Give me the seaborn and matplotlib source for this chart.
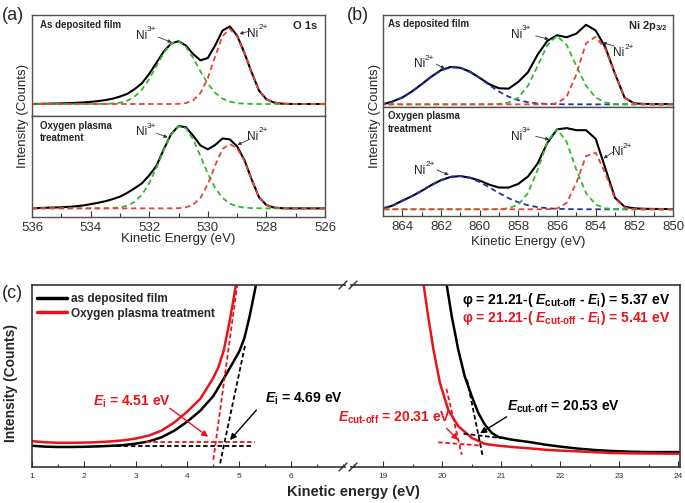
import matplotlib
matplotlib.use("Agg")
import matplotlib.pyplot as plt
import seaborn as sns
from matplotlib.lines import Line2D
from matplotlib.ticker import MultipleLocator

# ---------------- (a) O 1s ----------------
a_energy = [536.0, 535.75, 535.5, 535.25, 535.0, 534.75, 534.5, 534.25, 534.0, 533.75,
            533.5, 533.25, 533.0, 532.75, 532.5, 532.25, 532.0, 531.75, 531.5, 531.25,
            531.0, 530.75, 530.5, 530.25, 530.0, 529.75, 529.5, 529.25, 529.0, 528.75,
            528.5, 528.25, 528.0, 527.75, 527.5, 527.25, 527.0, 526.75, 526.5, 526.25, 526.0]

a_dep_total = [0.0, 0.002, 0.004, 0.006, 0.008, 0.011, 0.015, 0.02, 0.027, 0.037,
               0.05, 0.068, 0.095, 0.13, 0.19, 0.265, 0.385, 0.53, 0.675, 0.775,
               0.805, 0.75, 0.64, 0.56, 0.59, 0.75, 0.94, 0.995, 0.877, 0.654,
               0.401, 0.17, 0.06, 0.02, 0.005, 0.001, 0, 0, 0, 0, 0]
a_dep_ni3 = [0, 0, 0, 0, 0, 0, 0, 0, 0, 0,
             0.002, 0.006, 0.017, 0.042, 0.094, 0.185, 0.32, 0.488, 0.655, 0.773,
             0.803, 0.734, 0.591, 0.419, 0.261, 0.144, 0.069, 0.03, 0.011, 0.004,
             0.001, 0, 0, 0, 0, 0, 0, 0, 0, 0, 0]
a_dep_ni2 = [0, 0, 0, 0, 0, 0, 0, 0, 0, 0,
             0, 0, 0, 0, 0, 0, 0, 0, 0, 0,
             0.002, 0.012, 0.047, 0.141, 0.332, 0.609, 0.868, 0.965, 0.866, 0.65,
             0.40, 0.17, 0.06, 0.02, 0.005, 0.001, 0, 0, 0, 0, 0]

a_pl_total = [0.0, 0.004, 0.007, 0.01, 0.013, 0.018, 0.025, 0.035, 0.05, 0.066,
              0.085, 0.11, 0.14, 0.185, 0.24, 0.30, 0.395, 0.51, 0.71, 0.89,
              0.986, 0.973, 0.87, 0.753, 0.707, 0.759, 0.837, 0.827, 0.743, 0.578,
              0.343, 0.131, 0.04, 0.01, 0.002, 0, 0, 0, 0, 0, 0]
a_pl_ni3 = [0, 0, 0, 0, 0, 0, 0, 0, 0, 0,
            0.001, 0.004, 0.012, 0.032, 0.078, 0.163, 0.301, 0.49, 0.702, 0.886,
            0.984, 0.961, 0.827, 0.626, 0.418, 0.245, 0.126, 0.057, 0.023, 0.008,
            0.003, 0.001, 0, 0, 0, 0, 0, 0, 0, 0, 0]
a_pl_ni2 = [0, 0, 0, 0, 0, 0, 0, 0, 0, 0,
            0, 0, 0, 0, 0, 0, 0, 0, 0, 0,
            0.002, 0.012, 0.043, 0.127, 0.289, 0.514, 0.711, 0.77, 0.72, 0.57,
            0.34, 0.13, 0.04, 0.01, 0.002, 0, 0, 0, 0, 0, 0]

# ---------------- (b) Ni 2p3/2 ----------------
b_energy = [865.0, 864.5, 864.0, 863.5, 863.0, 862.5, 862.0, 861.5, 861.0, 860.5,
            860.0, 859.5, 859.0, 858.5, 858.0, 857.5, 857.0, 856.5, 856.0, 855.5,
            855.0, 854.5, 854.0, 853.5, 853.0, 852.5, 852.0, 851.5, 851.0, 850.5, 850.0]

b_dep_total = [0.0, 0.035, 0.085, 0.16, 0.25, 0.345, 0.425, 0.465, 0.455, 0.405,
               0.33, 0.25, 0.2, 0.195, 0.28, 0.40, 0.62, 0.79, 0.86, 0.835,
               0.88, 0.99, 0.92, 0.71, 0.38, 0.08, 0.012, 0.005, 0.003, 0.003, 0.003]
b_dep_sat = [0.005, 0.035, 0.085, 0.16, 0.248, 0.343, 0.423, 0.464, 0.455, 0.405,
             0.326, 0.239, 0.158, 0.095, 0.052, 0.026, 0.011, 0.005, 0.002, 0.001,
             0, 0, 0, 0, 0, 0, 0, 0, 0, 0, 0]
b_dep_ni3 = [0, 0, 0, 0, 0, 0, 0, 0, 0, 0,
             0, 0.001, 0.005, 0.023, 0.084, 0.232, 0.479, 0.738, 0.853, 0.738,
             0.479, 0.232, 0.084, 0.023, 0.005, 0.001, 0, 0, 0, 0, 0]
b_dep_ni2 = [0, 0, 0, 0, 0, 0, 0, 0, 0, 0,
             0, 0, 0, 0, 0, 0, 0, 0.001, 0.013, 0.095,
             0.372, 0.759, 0.84, 0.69, 0.38, 0.08, 0.008, 0.001, 0, 0, 0]

b_pl_total = [0.01, 0.045, 0.105, 0.16, 0.225, 0.295, 0.355, 0.395, 0.405, 0.385,
              0.35, 0.30, 0.265, 0.265, 0.31, 0.40, 0.56, 0.81, 0.975, 0.99,
              0.965, 0.965, 0.86, 0.50, 0.14, 0.03, 0.012, 0.006, 0.004, 0.003, 0.003]
b_pl_sat = [0.01, 0.045, 0.103, 0.159, 0.225, 0.295, 0.356, 0.396, 0.406, 0.383,
            0.333, 0.267, 0.198, 0.135, 0.085, 0.049, 0.026, 0.013, 0.006, 0.002,
            0.001, 0, 0, 0, 0, 0, 0, 0, 0, 0, 0]
b_pl_ni3 = [0, 0, 0, 0, 0, 0, 0, 0, 0, 0,
            0, 0, 0.002, 0.012, 0.057, 0.199, 0.482, 0.821, 0.98, 0.821,
            0.482, 0.199, 0.057, 0.012, 0.002, 0, 0, 0, 0, 0, 0]
b_pl_ni2 = [0, 0, 0, 0, 0, 0, 0, 0, 0, 0,
            0, 0, 0, 0, 0, 0, 0, 0.001, 0.009, 0.078,
            0.322, 0.649, 0.69, 0.44, 0.13, 0.02, 0.002, 0, 0, 0, 0]

# ---------------- (c) UPS ----------------
c_low_e_dep = [1.0, 1.25, 1.5, 1.75, 2.0, 2.25, 2.5, 2.75, 3.0, 3.25, 3.5, 3.75,
               4.0, 4.25, 4.5, 4.75, 5.0, 5.1, 5.2, 5.3, 5.35]
c_low_i_dep = [11.7, 11.2, 11.0, 11.0, 11.1, 11.3, 11.6, 12.0, 12.8, 14.0, 16.3, 20.0,
               25.0, 31.0, 39.0, 51.0, 63.5, 71.0, 83.0, 97.0, 105.0]
c_low_e_pl = [1.0, 1.25, 1.5, 1.75, 2.0, 2.25, 2.5, 2.75, 3.0, 3.25, 3.5, 3.75,
              4.0, 4.25, 4.5, 4.6, 4.7, 4.8, 4.9, 4.95]
c_low_i_pl = [14.2, 13.6, 13.3, 13.3, 13.4, 13.6, 14.0, 14.6, 15.6, 17.2, 20.0, 24.5,
              30.5, 37.5, 49.0, 55.0, 64.0, 78.0, 94.0, 103.0]

c_high_e_dep = [19.95, 20.07, 20.16, 20.27, 20.38, 20.5, 20.61, 20.72, 20.84, 20.95,
                21.18, 21.5, 21.74, 22.0, 22.3, 22.6, 22.87, 23.2, 23.5, 24.0]
c_high_i_dep = [125.0, 101.0, 82.8, 64.5, 49.8, 38.8, 29.7, 23.3, 18.7, 16.5,
                15.0, 13.6, 12.3, 11.2, 10.1, 9.3, 8.8, 8.4, 8.2, 8.2]
c_high_e_pl = [19.6, 19.68, 19.76, 19.85, 19.96, 20.1, 20.27, 20.5, 20.72, 20.95,
               21.18, 21.5, 21.74, 22.0, 22.3, 22.6, 22.87, 23.2, 23.5, 24.0]
c_high_i_pl = [119.0, 101.0, 82.8, 64.5, 46.2, 31.5, 22.4, 16.0, 12.7, 11.7,
               11.0, 10.2, 9.5, 9.0, 8.6, 8.1, 7.7, 7.5, 7.4, 7.3]

# extrapolation lines (end points)
ei_base_dep = ([2.35, 5.25], [11.8, 11.8])
ei_base_pl = ([3.2, 5.3], [14.0, 14.0])
ei_edge_dep = ([4.63, 5.12], [2.0, 68.0])
ei_edge_pl = ([4.50, 4.96], [4.0, 100.0])
co_base_dep = ([20.36, 21.0], [18.3, 15.9])
co_base_pl = ([19.93, 20.67], [13.6, 11.7])
co_edge_dep = ([20.42, 20.68], [48.0, 6.6])
co_edge_pl = ([20.07, 20.33], [43.0, 6.7])

# ---------------- style ----------------
sns.set_style("ticks")
plt.rcParams["font.family"] = ["Liberation Sans", "DejaVu Sans"]
plt.rcParams["mathtext.fontset"] = "custom"
plt.rcParams["mathtext.rm"] = "Liberation Sans:bold"
plt.rcParams["mathtext.it"] = "Liberation Sans:italic:bold"
plt.rcParams["mathtext.bf"] = "Liberation Sans:bold"

GREEN = "#2dbb2d"
RED = "#e8403a"
BLUE = "#2233aa"
CRED = "#e8141b"
FRAME = "#505050"

fig = plt.figure(figsize=(6.85, 5.03), dpi=100)


def box(left, top, right, bottom):
    return [left / 685, 1 - bottom / 503, (right - left) / 685, (bottom - top) / 503]


def xps(ax, x, total, comps, xlim, ylim):
    sns.lineplot(x=x, y=total, ax=ax, color="black", lw=1.5)
    for y, c in comps:
        sns.lineplot(x=x, y=y, ax=ax, color=c, lw=1.3, ls=(0, (3, 2)))
    ax.set_xlim(*xlim)
    ax.set_ylim(*ylim)
    ax.set_yticks([])
    ax.set_xlabel("")
    ax.set_ylabel("")
    for s in ax.spines.values():
        s.set_color(FRAME)
        s.set_linewidth(1.0)
        s.set_visible(True)


def label_arrow(ax, charge, txy, tail, tip):
    # "Ni" plus a small superscript charge, and a thin arrow to the peak
    ax.annotate("Ni", xy=txy, xytext=(-5, -3), textcoords="offset points",
                ha="center", va="center", fontsize=8.5, color="#222222")
    ax.annotate(charge, xy=txy, xytext=(-1.2, 1.5), textcoords="offset points",
                ha="left", va="center", fontsize=6, color="#222222")
    ax.annotate("", xy=tip, xytext=tail,
                arrowprops=dict(arrowstyle="-|>", color="#333333", lw=0.6,
                                mutation_scale=5, shrinkA=0, shrinkB=0))


# ---- (a)
ax_a1 = fig.add_axes(box(32, 15, 325, 115.7))
ax_a2 = fig.add_axes(box(32, 115.7, 325, 216.7))
xps(ax_a1, a_energy, a_dep_total, [(a_dep_ni3, GREEN), (a_dep_ni2, RED)], (536, 526), (-0.15, 1.141))
xps(ax_a2, a_energy, a_pl_total, [(a_pl_ni3, GREEN), (a_pl_ni2, RED)], (536, 526), (-0.10, 1.11))
label_arrow(ax_a1, "3+", (532.03, 0.93), (531.69, 0.857), (531.23, 0.79))
label_arrow(ax_a1, "2+", (528.22, 0.95), (528.56, 0.935), (528.92, 0.9))
label_arrow(ax_a2, "3+", (532.03, 0.96), (531.75, 0.9), (531.37, 0.85))
label_arrow(ax_a2, "2+", (528.22, 0.91), (528.56, 0.83), (528.99, 0.76))
ax_a1.text(0.027, 0.9, "As deposited film", transform=ax_a1.transAxes, fontsize=7,
           fontweight="bold", va="center", ha="left")
ax_a1.text(0.975, 0.89, "O 1s", transform=ax_a1.transAxes, fontsize=8,
           fontweight="bold", va="center", ha="right")
ax_a2.text(0.027, 0.95, "Oxygen plasma\ntreatment", transform=ax_a2.transAxes, fontsize=7,
           fontweight="bold", va="top", ha="left", linespacing=1.3)

# ---- (b)
ax_b1 = fig.add_axes(box(383, 15, 673, 107.3))
ax_b2 = fig.add_axes(box(383, 107.3, 673, 216))
xps(ax_b1, b_energy, b_dep_total, [(b_dep_sat, BLUE), (b_dep_ni3, GREEN), (b_dep_ni2, RED)],
    (865, 850), (-0.037, 1.112))
xps(ax_b2, b_energy, b_pl_total, [(b_pl_sat, BLUE), (b_pl_ni3, GREEN), (b_pl_ni2, RED)],
    (865, 850), (-0.082, 1.244))
label_arrow(ax_b1, "2+", (862.75, 0.55), (862.25, 0.5), (861.8, 0.445))
label_arrow(ax_b1, "3+", (857.72, 0.92), (857.1, 0.853), (856.42, 0.81))
label_arrow(ax_b1, "2+", (852.44, 0.685), (853.05, 0.727), (853.65, 0.77))
label_arrow(ax_b2, "2+", (862.73, 0.52), (862.21, 0.48), (861.6, 0.418))
label_arrow(ax_b2, "3+", (857.72, 0.93), (857.1, 0.89), (856.4, 0.85))
label_arrow(ax_b2, "2+", (852.53, 0.746), (853.05, 0.705), (853.6, 0.62))
ax_b1.text(0.017, 0.9, "As deposited film", transform=ax_b1.transAxes, fontsize=7,
           fontweight="bold", va="center", ha="left")
ax_b1.text(0.983, 0.88, r"Ni 2p$_{\mathrm{3/2}}$", transform=ax_b1.transAxes, fontsize=8,
           fontweight="bold", va="center", ha="right")
ax_b2.text(0.017, 0.962, "Oxygen plasma\ntreatment", transform=ax_b2.transAxes, fontsize=7,
           fontweight="bold", va="top", ha="left", linespacing=1.3)

for ax in (ax_a1, ax_b1):
    ax.tick_params(bottom=False, labelbottom=False, left=False)
for ax, major in ((ax_a2, [536, 534, 532, 530, 528, 526]),
                  (ax_b2, [864, 862, 860, 858, 856, 854, 852, 850])):
    ax.set_xticks(major)
    ax.xaxis.set_minor_locator(MultipleLocator(1))
    ax.tick_params(axis="x", which="both", direction="in", labelsize=9.5, pad=3.5,
                   colors="#333333", width=0.8)
    ax.tick_params(axis="x", which="major", length=4)
    ax.tick_params(axis="x", which="minor", length=3)
    ax.tick_params(left=False)

for xc, t in ((178.5, 239), (528, 242)):
    fig.text(xc / 685, 1 - t / 503, "Kinetic Energy (eV)", ha="center", va="center", fontsize=9.5)
for xc in (23, 375):
    fig.text(xc / 685, 1 - 116 / 503, "Intensity (Counts)", ha="center", va="center",
             rotation=90, fontsize=9.5)
fig.text(2 / 685, 1 - 15 / 503, "(a)", ha="left", va="center", fontsize=13)
fig.text(347 / 685, 1 - 15 / 503, "(b)", ha="left", va="center", fontsize=13)

# ---- (c)
ax_c1 = fig.add_axes(box(31.7, 285, 345, 467))
ax_c2 = fig.add_axes(box(351, 285, 680, 467))

sns.lineplot(x=c_low_e_dep, y=c_low_i_dep, ax=ax_c1, color="black", lw=1.8, label="as deposited film")
sns.lineplot(x=c_low_e_pl, y=c_low_i_pl, ax=ax_c1, color=CRED, lw=1.8, label="Oxygen plasma treatment")
sns.lineplot(x=c_high_e_dep, y=c_high_i_dep, ax=ax_c2, color="black", lw=1.8)
sns.lineplot(x=c_high_e_pl, y=c_high_i_pl, ax=ax_c2, color=CRED, lw=1.8)

dash = (0, (2.5, 1.5))
for ax, lines in ((ax_c1, [(ei_base_dep, "black"), (ei_base_pl, CRED), (ei_edge_dep, "black"), (ei_edge_pl, CRED)]),
                  (ax_c2, [(co_base_dep, "black"), (co_base_pl, CRED), (co_edge_dep, "black"), (co_edge_pl, CRED)])):
    for (xs, ys), c in lines:
        sns.lineplot(x=xs, y=ys, ax=ax, color=c, lw=1.3, ls=dash)

ax_c1.set_xlim(1, 1 + 313.3 / 51.9)
ax_c2.set_xlim(19 - 32.3 / 59, 19 + 296.7 / 59)
for ax in (ax_c1, ax_c2):
    ax.set_ylim(0, 100)
    ax.set_yticks([])
    ax.set_xlabel("")
    ax.set_ylabel("")
    ax.xaxis.set_minor_locator(MultipleLocator(0.5))
    ax.tick_params(axis="x", which="both", direction="in", labelsize=6, pad=4,
                   colors="#333333", width=0.8)
    ax.tick_params(axis="x", which="major", length=4)
    ax.tick_params(axis="x", which="minor", length=2.5)
    ax.tick_params(left=False)
    for s in ax.spines.values():
        s.set_color("#333333")
        s.set_linewidth(1.2)
        s.set_visible(True)
ax_c1.set_xticks([1, 2, 3, 4, 5, 6])
ax_c2.set_xticks([19, 20, 21, 22, 23, 24])
ax_c1.spines["right"].set_visible(False)
ax_c2.spines["left"].set_visible(False)

leg = ax_c1.legend(loc="upper left", bbox_to_anchor=(0.016, 0.955), frameon=False,
                   handlelength=2.6, handletextpad=0.3, labelspacing=0.2,
                   borderaxespad=0, borderpad=0, prop=dict(weight="bold", size=8.5))
for ln in leg.get_lines():
    ln.set_linewidth(2.5)

FS = 10
arr = dict(arrowstyle="-|>", lw=1.0, mutation_scale=9, shrinkA=0, shrinkB=0)
ax_c1.text(2.19, 35.9, r"$\mathit{E}_{\mathrm{i}}$ = 4.51 eV", color=CRED, fontsize=FS,
           fontweight="bold", ha="left", va="center")
ax_c1.annotate("", xy=(4.40, 16.6), xytext=(3.66, 32.3), arrowprops=dict(arr, color=CRED))
ax_c1.text(5.5, 37.7, r"$\mathit{E}_{\mathrm{i}}$ = 4.69 eV", color="black", fontsize=FS,
           fontweight="bold", ha="left", va="center")
ax_c1.annotate("", xy=(4.82, 14.8), xytext=(5.33, 31.3), arrowprops=dict(arr, color="black"))

CUT = r"$\mathit{E}_{\mathrm{cut}\text{-}\mathrm{off}}$"
ax_c2.text(18.23, 27.0, CUT + " = 20.31 eV", color=CRED, fontsize=FS,
           fontweight="bold", ha="left", va="center")
ax_c2.annotate("", xy=(20.27, 14.8), xytext=(20.07, 21.3), arrowprops=dict(arr, color=CRED))
ax_c2.text(21.09, 33.1, CUT + " = 20.53 eV", color="black", fontsize=FS,
           fontweight="bold", ha="left", va="center")
ax_c2.annotate("", xy=(20.64, 18.5), xytext=(21.09, 27.6), arrowprops=dict(arr, color="black"))
ax_c2.text(20.33, 91.8, "φ = 21.21-( " + CUT + r" - $\mathit{E}_{\mathrm{i}}$) = 5.37 eV",
           color="black", fontsize=FS, fontweight="bold", ha="left", va="center")
ax_c2.text(20.33, 81.7, "φ = 21.21-( " + CUT + r" - $\mathit{E}_{\mathrm{i}}$) = 5.41 eV",
           color=CRED, fontsize=FS, fontweight="bold", ha="left", va="center")

# axis break marks
for yb in (285, 467):
    for x0 in (339, 349):
        fig.add_artist(Line2D([x0 / 685, (x0 + 8) / 685], [1 - (yb + 4) / 503, 1 - (yb - 4) / 503],
                              transform=fig.transFigure, color="#333333", lw=1.0))

fig.text(11 / 685, 1 - 383 / 503, "Intensity (Counts)", ha="center", va="center",
         rotation=90, fontsize=10, fontweight="bold")
fig.text(353 / 685, 1 - 492 / 503, "Kinetic energy (eV)", ha="center", va="center",
         fontsize=10.5, fontweight="bold")
fig.text(2 / 685, 1 - 293 / 503, "(c)", ha="left", va="center", fontsize=13)

fig.savefig("out.png", dpi=100)
